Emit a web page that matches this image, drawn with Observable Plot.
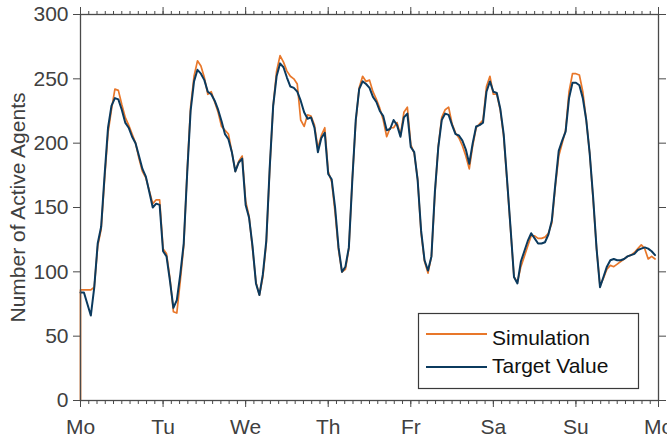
<!DOCTYPE html>
<html>
<head>
<meta charset="utf-8">
<script src="https://cdn.jsdelivr.net/npm/d3@7"></script>
<script src="https://cdn.jsdelivr.net/npm/@observablehq/plot@0.6"></script>
<style>
  body { margin: 0; background: #fff; font-family: "Liberation Sans", Arial, sans-serif; }
  #wrap { position: relative; width: 667px; height: 441px; overflow: hidden; }
  #legend { position: absolute; left: 417px; top: 312px; }
</style>
</head>
<body>
<div id="wrap"></div>
<script>
// ---- data ----
const dayLabels = ["Mo", "Tu", "We", "Th", "Fr", "Sa", "Su", "Mo"];
const dayTicks = [0, 24, 48, 72, 96, 120, 144, 168];   // hours since Monday 00:00
const yTicks = [0, 50, 100, 150, 200, 250, 300];
const seriesNames = ["Simulation", "Target Value"];
const seriesColors = ["#e8772a", "#0b3a5e"];

// Target value, hourly (hour 0 .. 167)
const target = [
  84, 84, 75, 66, 88, 122, 135, 175, 212, 229, 235, 234, 226, 216, 212, 205, 200, 190, 180, 174, 162, 150, 153, 152,
  116, 112, 93, 72, 78, 98, 122, 176, 225, 248, 257, 254, 249, 240, 238, 233, 226, 217, 207, 203, 193, 178, 185, 188,
  152, 142, 120, 91, 82, 98, 124, 181, 229, 252, 262, 259, 251, 244, 243, 240, 233, 224, 219, 220, 212, 193, 204, 208,
  176, 172, 150, 119, 100, 104, 119, 171, 218, 242, 248, 246, 243, 236, 232, 225, 221, 210, 211, 218, 214, 205, 220, 223,
  197, 193, 171, 132, 109, 101, 112, 162, 197, 218, 223, 222, 214, 207, 206, 202, 195, 184, 200, 213, 214, 216, 240, 248,
  240, 239, 227, 207, 171, 134, 96, 91, 108, 116, 124, 130, 126, 122, 122, 123, 129, 140, 168, 194, 202, 209, 235, 247,
  247, 245, 235, 218, 192, 158, 118, 88, 96, 104, 109, 110, 109, 109, 110, 112, 113, 114, 117, 118, 119, 118, 116, 113
];

// Simulation, hourly (hour 0 .. 167); the run starts from 0 agents at hour 0
const simulationStart = 0;
const simulation = [
  86, 86, 86, 86, 88, 120, 133, 172, 208, 226, 242, 241, 230, 220, 214, 207, 200, 188, 178, 173, 163, 153, 156, 156,
  118, 114, 95, 69, 68, 93, 120, 178, 228, 252, 264, 260, 251, 238, 240, 232, 224, 213, 210, 207, 193, 178, 186, 190,
  155, 143, 118, 92, 82, 96, 122, 180, 229, 256, 268, 263, 256, 252, 250, 246, 218, 213, 222, 221, 214, 196, 206, 212,
  178, 170, 146, 117, 100, 102, 118, 172, 216, 243, 252, 248, 249, 240, 234, 227, 218, 205, 212, 212, 216, 206, 224, 228,
  199, 192, 172, 130, 108, 99, 112, 160, 198, 220, 226, 228, 215, 208, 204, 198, 190, 180, 198, 212, 215, 218, 244, 252,
  238, 238, 226, 205, 170, 133, 96, 92, 104, 112, 120, 128, 128, 126, 126, 127, 130, 138, 166, 190, 200, 210, 240, 254,
  254, 253, 240, 218, 192, 156, 118, 89, 95, 102, 105, 104, 106, 108, 110, 112, 113, 115, 118, 121, 118, 110, 112, 110
];

// ---- build tables ----
const targetData = target.map((v, i) => ({hour: i, value: v}));
const simData = [{hour: 0, value: simulationStart}, ...simulation.map((v, i) => ({hour: i, value: v}))];
const minorTicks = d3.range(0, 168.001, 2.4);

const axisColor = "#4a4a4a";
const textColor = "#404040";
const fs = 21;

const chart = Plot.plot({
  width: 667,
  height: 441,
  marginLeft: 80,
  marginRight: 9,
  marginTop: 14,
  marginBottom: 41,
  style: {fontFamily: "'Liberation Sans', Arial, sans-serif", fontSize: fs + "px", color: textColor, background: "white", overflow: "visible"},
  x: {domain: [0, 168]},
  y: {domain: [0, 300]},
  marks: [
    Plot.line(simData, {x: "hour", y: "value", stroke: seriesColors[0], strokeWidth: 1.7}),
    Plot.line(targetData, {x: "hour", y: "value", stroke: seriesColors[1], strokeWidth: 2}),
    Plot.frame({stroke: axisColor, strokeWidth: 1.3}),
    Plot.axisY({anchor: "left", ticks: yTicks, tickSize: 7, tickPadding: 5, fontSize: fs, stroke: axisColor, fill: textColor,
      label: "Number of Active Agents", labelAnchor: "center", labelOffset: 70, labelArrow: "none"}),
    Plot.axisY({anchor: "right", ticks: yTicks, tickSize: 7, stroke: axisColor, fill: "none", label: null}),
    Plot.axisX({anchor: "bottom", ticks: dayTicks, tickSize: 7, tickPadding: 12, fontSize: fs, stroke: axisColor, fill: textColor,
      tickFormat: (d) => dayLabels[dayTicks.indexOf(d)], label: null}),
    Plot.axisX({anchor: "bottom", ticks: minorTicks, tickSize: 4, stroke: axisColor, fill: "none", label: null}),
    Plot.axisX({anchor: "top", ticks: dayTicks, tickSize: 8, stroke: axisColor, fill: "none", label: null}),
    Plot.axisX({anchor: "top", ticks: minorTicks, tickSize: 4, stroke: axisColor, fill: "none", label: null})
  ]
});

const wrap = document.getElementById("wrap");
wrap.appendChild(chart);

// ---- legend ----
const lg = d3.select(wrap).append("svg")
  .attr("id", "legend")
  .attr("width", 223)
  .attr("height", 78);
lg.append("rect")
  .attr("x", 1.5).attr("y", 1.5)
  .attr("width", 220).attr("height", 75)
  .attr("fill", "white").attr("stroke", "#3a3a3a").attr("stroke-width", 1.2);
const rowY = [22, 55];
const textY = [33, 61];
seriesNames.forEach((name, i) => {
  lg.append("line")
    .attr("x1", 9).attr("x2", 70)
    .attr("y1", rowY[i]).attr("y2", rowY[i])
    .attr("stroke", seriesColors[i]).attr("stroke-width", 2.2);
  lg.append("text")
    .attr("x", 75).attr("y", textY[i])
    .attr("font-family", "'Liberation Sans', Arial, sans-serif")
    .attr("font-size", fs)
    .attr("fill", "#111")
    .text(name);
});
</script>
</body>
</html>
